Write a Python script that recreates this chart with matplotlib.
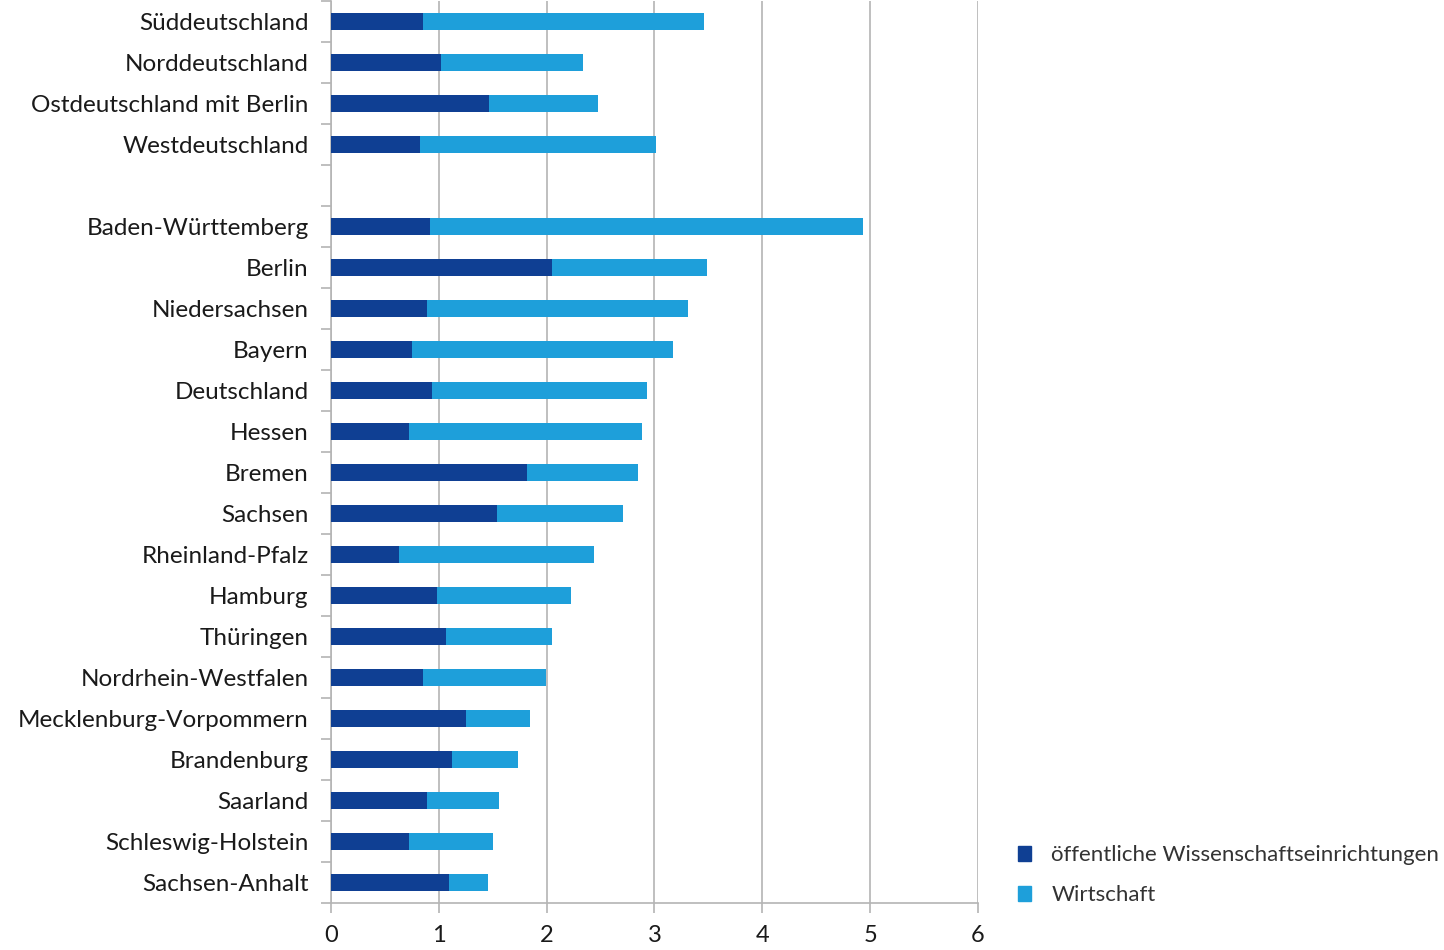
import numpy as np
import matplotlib.pyplot as plt
from matplotlib.patches import Patch

# Regionen / Länder, von oben nach unten ("" = Lücke)
labels = ["Süddeutschland", "Norddeutschland", "Ostdeutschland mit Berlin", "Westdeutschland", "",
          "Baden-Württemberg", "Berlin", "Niedersachsen", "Bayern", "Deutschland", "Hessen",
          "Bremen", "Sachsen", "Rheinland-Pfalz", "Hamburg", "Thüringen", "Nordrhein-Westfalen",
          "Mecklenburg-Vorpommern", "Brandenburg", "Saarland", "Schleswig-Holstein", "Sachsen-Anhalt"]
# öffentliche Wissenschaftseinrichtungen
oeffentlich = [0.85, 1.02, 1.47, 0.83, 0,
               0.92, 2.05, 0.89, 0.75, 0.94, 0.72, 1.82, 1.54, 0.63, 0.98, 1.07, 0.85,
               1.25, 1.12, 0.89, 0.72, 1.09]
# Gesamt (öffentlich + Wirtschaft)
gesamt = [3.46, 2.34, 2.48, 3.01, 0,
          4.93, 3.49, 3.31, 3.17, 2.93, 2.88, 2.85, 2.71, 2.44, 2.23, 2.05, 1.99,
          1.85, 1.73, 1.56, 1.50, 1.46]
wirtschaft = [g - o for g, o in zip(gesamt, oeffentlich)]

dark = "#0f3f93"
light = "#1e9fda"
grey = "#b4b4b4"

plt.rcParams['font.family'] = ['Lato', 'DejaVu Sans']

fig = plt.figure(figsize=(14.44, 9.5), dpi=100)
ax = fig.add_axes([0.2292, 0.0495, 0.4481, 0.9495])

y = np.arange(len(labels))
ax.barh(y, oeffentlich, height=0.42, color=dark, zorder=3)
ax.barh(y, wirtschaft, left=oeffentlich, height=0.42, color=light, zorder=3)

ax.set_ylim(len(labels) - 0.5, -0.5)
ax.set_xlim(0, 6)
ax.set_yticks(y)
ax.set_yticklabels(labels, fontsize=17.5, color="#1a1a1a")
ax.tick_params(axis='y', length=0, pad=16)
ax.set_yticks(np.arange(len(labels) + 1) - 0.5, minor=True)
ax.tick_params(axis='y', which='minor', length=7, color=grey, width=1.2)
ax.set_xticks(range(7))
ax.tick_params(axis='x', length=7, color=grey, width=1.2, labelsize=17, labelcolor="#1a1a1a", pad=9)

ax.grid(axis='x', color=grey, linewidth=1.2, zorder=0)
for s in ['top', 'right']:
    ax.spines[s].set_visible(False)
for s in ['left', 'bottom']:
    ax.spines[s].set_color(grey)
    ax.spines[s].set_linewidth(1.2)

handles = [Patch(color=dark, label="öffentliche Wissenschaftseinrichtungen"),
           Patch(color=light, label="Wirtschaft")]
fig.legend(handles=handles, loc='lower left', bbox_to_anchor=(0.705, 0.047), frameon=False,
           borderpad=0, borderaxespad=0, fontsize=16, handlelength=0.6, handleheight=0.6,
           handletextpad=0.9, labelspacing=0.9, labelcolor="#333333")

fig.savefig("out.png", dpi=100)
